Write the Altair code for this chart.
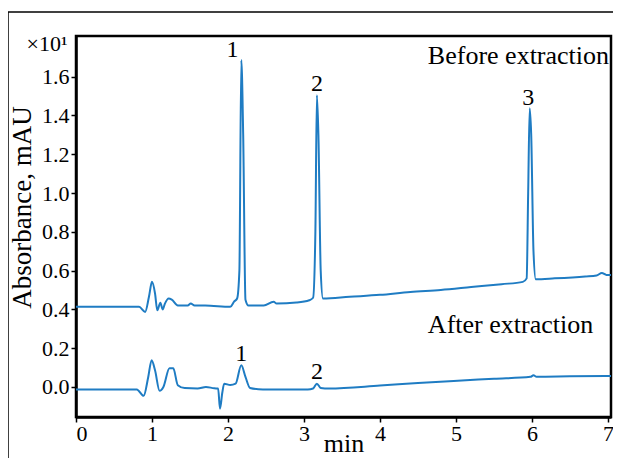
import altair as alt
import pandas as pd

# ---- data ----
before_t = [0.00, 0.83, 0.91, 0.96, 1.00, 1.04, 1.07, 1.11, 1.14, 1.17, 1.22, 1.26, 1.34, 1.47, 1.51,
            1.56, 1.70, 2.03, 2.08, 2.12, 2.15, 2.175, 2.20, 2.23, 2.27, 2.47, 2.60, 2.64, 2.90, 3.07,
            3.12, 3.15, 3.17, 3.19, 3.22, 3.25, 3.60, 4.00, 4.40, 4.80, 5.20, 5.60, 5.88, 5.93, 5.95,
            5.97, 5.99, 6.02, 6.05, 6.30, 6.70, 6.85, 6.92, 6.98, 7.04]
before_v = [0.413, 0.413, 0.387, 0.465, 0.542, 0.482, 0.395, 0.434, 0.40, 0.43, 0.456, 0.45, 0.42, 0.42, 0.43,
            0.42, 0.42, 0.413, 0.44, 0.456, 0.60, 1.686, 1.30, 0.45, 0.42, 0.42, 0.44, 0.43, 0.435, 0.447,
            0.46, 0.80, 1.505, 1.30, 0.60, 0.456, 0.465, 0.475, 0.49, 0.50, 0.515, 0.53, 0.542, 0.56, 1.00,
            1.437, 1.30, 0.70, 0.555, 0.56, 0.57, 0.575, 0.588, 0.578, 0.578]

after_t = [0.00, 0.80, 0.89, 0.95, 0.995, 1.04, 1.10, 1.15, 1.23, 1.28, 1.34, 1.43, 1.60, 1.71, 1.82,
           1.87, 1.895, 1.925, 1.95, 2.03, 2.10, 2.175, 2.23, 2.29, 2.46, 3.05, 3.12, 3.17, 3.22, 3.33,
           4.00, 4.50, 4.97, 5.50, 5.98, 6.02, 6.06, 6.50, 7.04]
after_v = [-0.013, -0.013, -0.046, 0.05, 0.138, 0.086, -0.02, 0.0, 0.096, 0.096, 0.009, -0.006, -0.008, 0.0, -0.007,
           -0.008, -0.112, -0.03, 0.017, 0.01, 0.017, 0.112, 0.052, -0.005, -0.013, -0.013, -0.008, 0.017, -0.005, -0.008,
           0.007, 0.02, 0.031, 0.042, 0.052, 0.06, 0.053, 0.055, 0.057]

peak_text = ["1", "2", "3", "1", "2"]
peak_t = [2.06, 3.17, 5.95, 2.175, 3.17]
peak_v = [1.74, 1.56, 1.49, 0.17, 0.075]

trace_names = ["Before extraction", "After extraction"]
trace_label_t = [4.63, 4.63]
trace_label_v = [1.707, 0.318]

x_ticks = [0, 1, 2, 3, 4, 5, 6, 7]
y_ticks = [0.0, 0.2, 0.4, 0.6, 0.8, 1.0, 1.2, 1.4, 1.6]

FONT = "Liberation Serif"
LINE = "#1f7cc3"

df = pd.concat([
    pd.DataFrame({"t": before_t, "v": before_v, "trace": "before"}),
    pd.DataFrame({"t": after_t, "v": after_v, "trace": "after"}),
])
peaks = pd.DataFrame({"t": peak_t, "v": peak_v, "label": peak_text})
names = pd.DataFrame({"t": trace_label_t, "v": trace_label_v, "label": trace_names})

W, H = 535, 381

xs = alt.Scale(domain=[0, 7.04], nice=False, zero=False)
ys = alt.Scale(domain=[-0.155, 1.81], nice=False, zero=False)

x_axis = alt.Axis(values=x_ticks, format="d", title="min", grid=False,
                  titleFont=FONT, titleFontSize=26, titleFontWeight="normal", titleColor="black",
                  titleX=W / 2, titleY=34, titleBaseline="alphabetic",
                  labelFont=FONT, labelFontSize=22, labelColor="black", labelPadding=1,
                  domainColor="black", domainWidth=2.5, tickColor="black", tickSize=5, tickWidth=1.5)
y_axis = alt.Axis(values=y_ticks, format=".1f", title="Absorbance, mAU", grid=False,
                  titleFont=FONT, titleFontSize=27, titleFontWeight="normal", titleColor="black",
                  titleX=-54, titleY=171, titleAngle=-90, titleBaseline="middle", titleAlign="center",
                  labelFont=FONT, labelFontSize=22, labelColor="black", labelPadding=2,
                  domainColor="black", domainWidth=2.5, tickColor="black", tickSize=5, tickWidth=1.5)

lines = alt.Chart(df).mark_line(color=LINE, strokeWidth=2, interpolate="monotone").encode(
    x=alt.X("t:Q", scale=xs, axis=x_axis),
    y=alt.Y("v:Q", scale=ys, axis=y_axis),
    detail="trace:N",
)

peak_labels = alt.Chart(peaks).mark_text(font=FONT, fontSize=24, color="black", baseline="middle").encode(
    x=alt.X("t:Q", scale=xs), y=alt.Y("v:Q", scale=ys), text="label:N")

name_labels = alt.Chart(names).mark_text(font=FONT, fontSize=26, color="black", align="left",
                                         baseline="middle").encode(
    x=alt.X("t:Q", scale=xs), y=alt.Y("v:Q", scale=ys), text="label:N")

exponent = alt.Chart(pd.DataFrame({"s": ["×10¹"]})).mark_text(
    font=FONT, fontSize=22, color="black", align="center", baseline="middle").encode(
    x=alt.value(-29), y=alt.value(8), text="s:N")

frame_top = alt.Chart(pd.DataFrame({"a": [0]})).mark_rule(color="black", strokeWidth=1.5).encode(
    x=alt.value(-68), x2=alt.value(560), y=alt.value(-24))
frame_left = alt.Chart(pd.DataFrame({"a": [0]})).mark_rule(color="black", strokeWidth=1.5).encode(
    x=alt.value(-68), y=alt.value(-24), y2=alt.value(440))

chart = alt.layer(frame_top, frame_left, lines, peak_labels, name_labels, exponent).properties(
    width=W, height=H,
    autosize=alt.AutoSizeParams(type="none"),
    padding={"left": 68, "top": 28, "right": 2, "bottom": 41},
).configure_view(stroke="black", strokeWidth=2.5)

chart.save("out.html", embed_options={"renderer": "svg", "actions": False})
